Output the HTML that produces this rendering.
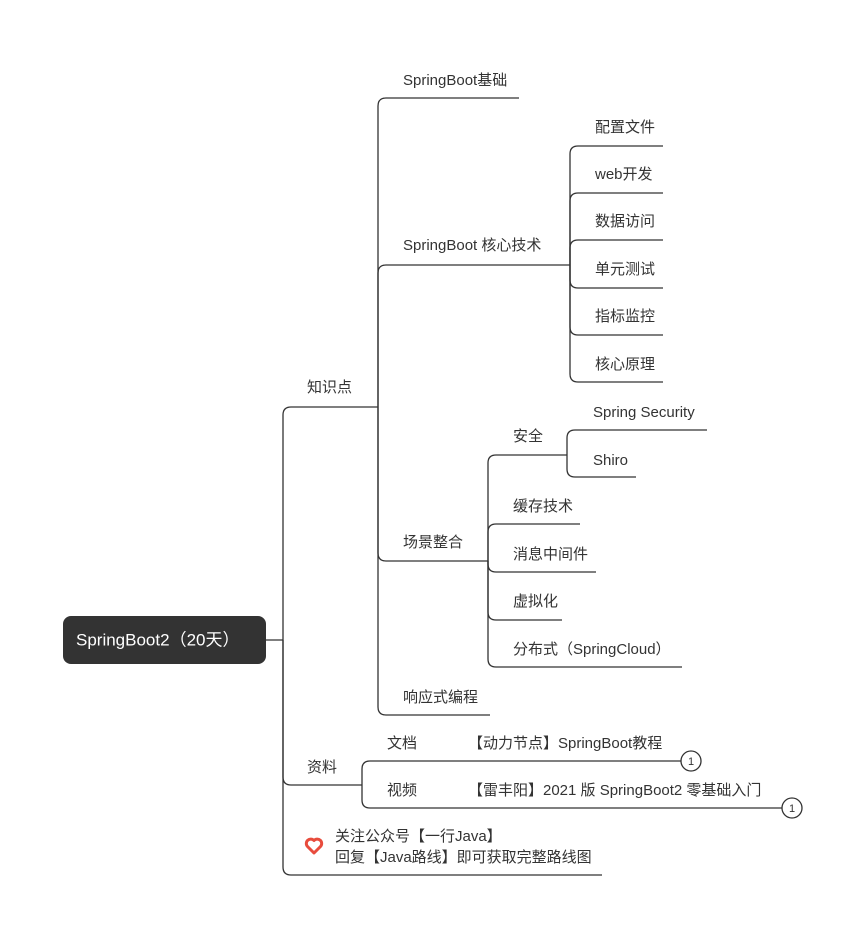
<!DOCTYPE html>
<html><head><meta charset="utf-8"><style>
html,body{margin:0;padding:0;background:#fff}
svg text{font-family:"Liberation Sans","Noto Sans CJK SC",sans-serif;font-size:15px;fill:#333;dominant-baseline:middle}
</style></head><body>
<svg width="865" height="938" viewBox="0 0 865 938" xmlns="http://www.w3.org/2000/svg">
<g fill="none" stroke="#333" stroke-width="1.3">
<path d="M266 640 L283 640"/>
<path d="M283 640 L283 415 Q283 407 291 407 L378 407"/>
<path d="M283 640 L283 777 Q283 785 291 785 L362 785"/>
<path d="M283 640 L283 867 Q283 875 291 875 L602 875"/>
<path d="M378 407 L378 106 Q378 98 386 98 L519 98"/>
<path d="M378 407 L378 273 Q378 265 386 265 L570 265"/>
<path d="M378 407 L378 553 Q378 561 386 561 L488 561"/>
<path d="M378 407 L378 707 Q378 715 386 715 L490 715"/>
<path d="M570 265 L570 154 Q570 146 578 146 L663 146"/>
<path d="M570 265 L570 201 Q570 193 578 193 L663 193"/>
<path d="M570 265 L570 248 Q570 240 578 240 L663 240"/>
<path d="M570 265 L570 280 Q570 288 578 288 L663 288"/>
<path d="M570 265 L570 327 Q570 335 578 335 L663 335"/>
<path d="M570 265 L570 374 Q570 382 578 382 L663 382"/>
<path d="M488 561 L488 463 Q488 455 496 455 L567 455"/>
<path d="M488 561 L488 532 Q488 524 496 524 L580 524"/>
<path d="M488 561 L488 564 Q488 572 496 572 L596 572"/>
<path d="M488 561 L488 612 Q488 620 496 620 L562 620"/>
<path d="M488 561 L488 659 Q488 667 496 667 L682 667"/>
<path d="M567 455 L567 438 Q567 430 575 430 L707 430"/>
<path d="M567 455 L567 469 Q567 477 575 477 L636 477"/>
<path d="M362 785 L362 769 Q362 761 370 761 L681 761"/>
<path d="M362 785 L362 800 Q362 808 370 808 L782 808"/>
<circle cx="691" cy="761" r="10" fill="#fff"/>
<circle cx="792" cy="808" r="10" fill="#fff"/>
</g>
<rect x="63" y="616" width="203" height="48" rx="8" fill="#333"/>
<text x="76" y="641" style="fill:#fff;font-size:17px">SpringBoot2（20天）</text>
<text x="307" y="388">知识点</text>
<text x="307" y="768">资料</text>
<text x="403" y="81">SpringBoot基础</text>
<text x="403" y="246">SpringBoot 核心技术</text>
<text x="403" y="543">场景整合</text>
<text x="403" y="698">响应式编程</text>
<text x="595" y="128">配置文件</text>
<text x="595" y="175">web开发</text>
<text x="595" y="222">数据访问</text>
<text x="595" y="270">单元测试</text>
<text x="595" y="317">指标监控</text>
<text x="595" y="365">核心原理</text>
<text x="513" y="437">安全</text>
<text x="513" y="507">缓存技术</text>
<text x="513" y="555">消息中间件</text>
<text x="513" y="602">虚拟化</text>
<text x="513" y="650">分布式（SpringCloud）</text>
<text x="593" y="413">Spring Security</text>
<text x="593" y="461">Shiro</text>
<text x="387" y="744">文档</text>
<text x="387" y="791">视频</text>
<text x="468" y="744">【动力节点】SpringBoot教程</text>
<text x="468" y="791">【雷丰阳】2021 版 SpringBoot2 零基础入门</text>
<text x="691" y="762" text-anchor="middle" style="font-size:11px">1</text>
<text x="792" y="809" text-anchor="middle" style="font-size:11px">1</text>
<path d="M314 853 L307.5 846.5 A3.8 3.8 0 0 1 314 840.5 A3.8 3.8 0 0 1 320.5 846.5 Z" fill="#fff" stroke="#e84c3d" stroke-width="3" stroke-linejoin="round"/>
<text x="335" y="837">关注公众号【一行Java】</text>
<text x="335" y="858">回复【Java路线】即可获取完整路线图</text>
</svg>
</body></html>
